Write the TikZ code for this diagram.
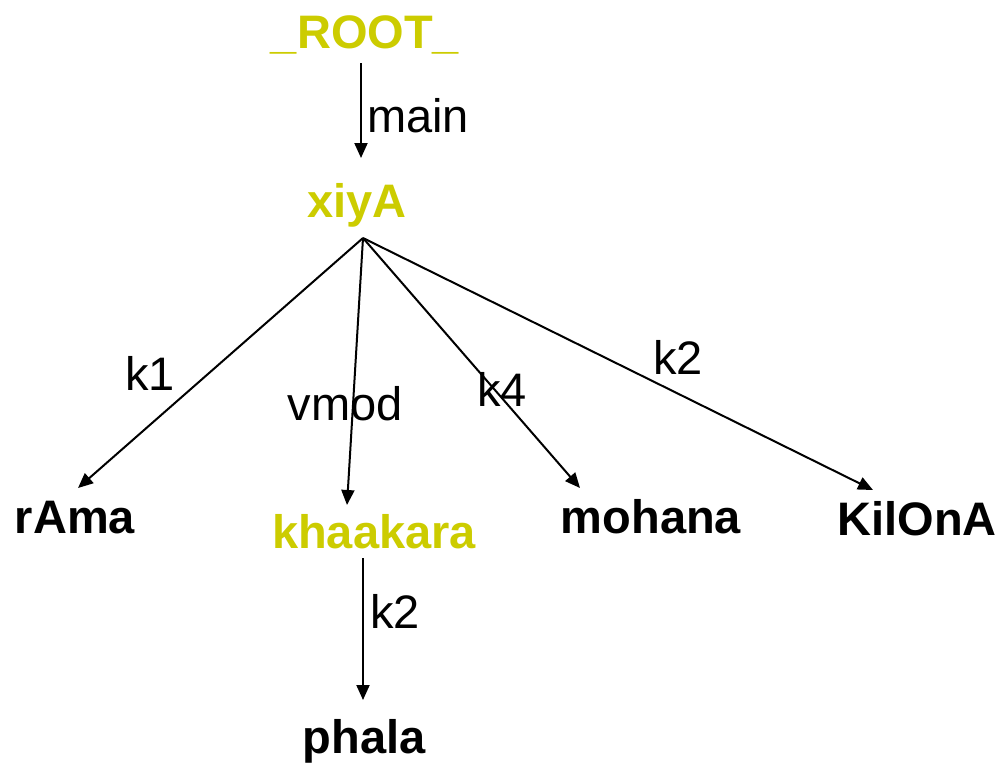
\documentclass[tikz,border=0pt]{standalone}
\usepackage{fontspec}
\setmainfont{Liberation Sans}
\usetikzlibrary{arrows.meta}
\definecolor{headword}{HTML}{CCCC00}
\begin{document}
\begin{tikzpicture}[x=1pt,y=-1pt,
  word/.style={anchor=base,inner sep=0pt,font=\fontsize{47}{56}\selectfont\bfseries},
  head/.style={word,text=headword},
  rel/.style={anchor=base,inner sep=0pt,font=\fontsize{47}{56}\selectfont},
  dep/.style={line width=2pt,-{Triangle[length=15pt,width=13pt]}}]
\useasboundingbox (0,0) rectangle (1002,764);
% tree nodes
\node[head] (root) at (365,48) {\_ROOT\_};
\node[head] (xiyA) at (357,217) {xiyA};
\node[word] (rAma) at (75,533) {rAma};
\node[head] (khaakara) at (374,548) {khaakara};
\node[word] (mohana) at (651,533) {mohana};
\node[word] (KilOnA) at (917,535) {KilOnA};
\node[word] (phala) at (364,753) {phala};
% connector end points
\coordinate (root-out) at (361,63);
\coordinate (xiyA-in) at (361,158);
\coordinate (xiyA-out) at (363,238);
\coordinate (rAma-in) at (78,488);
\coordinate (khaakara-in) at (347,505);
\coordinate (mohana-in) at (580,488);
\coordinate (KilOnA-in) at (873,490);
\coordinate (khaakara-out) at (363,558);
\coordinate (phala-in) at (363,700);
% dependency arrows
\draw[dep] (root-out) -- (xiyA-in);
\draw[dep] (xiyA-out) -- (rAma-in);
\draw[dep] (xiyA-out) -- (khaakara-in);
\draw[dep] (xiyA-out) -- (mohana-in);
\draw[dep] (xiyA-out) -- (KilOnA-in);
\draw[dep] (khaakara-out) -- (phala-in);
% relation labels
\node[rel] (l-main) at (418,132) {main};
\node[rel] (l-k1) at (150,390) {k1};
\node[rel] (l-vmod) at (345,420) {vmod};
\node[rel] (l-k4) at (502,406) {k4};
\node[rel] (l-k2a) at (678,374) {k2};
\node[rel] (l-k2b) at (395,628) {k2};
\end{tikzpicture}
\end{document}
